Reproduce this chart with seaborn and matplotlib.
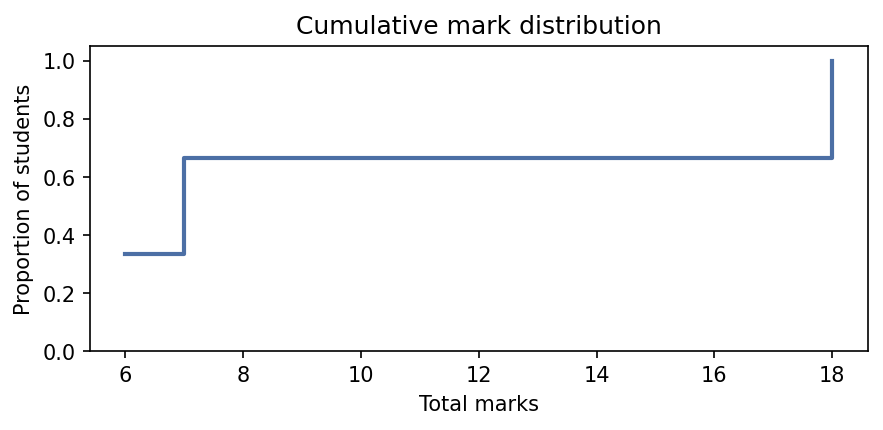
import numpy as np
import pandas as pd
import seaborn as sns
import matplotlib
matplotlib.use("Agg")
import matplotlib.pyplot as plt

# Total marks per student
students = ["A", "B", "C"]
total_marks = [6, 7, 18]

# Empirical cumulative proportion at each mark
marks = np.sort(np.array(total_marks))
proportion = np.arange(1, len(marks) + 1) / len(marks)
df = pd.DataFrame({"total": marks, "proportion": proportion})

fig, ax = plt.subplots(figsize=(5.89, 2.87), dpi=150)
sns.lineplot(data=df, x="total", y="proportion", ax=ax, color="#4c6fa5",
             linewidth=2, drawstyle="steps-post")

ax.set_ylim(0, 1.05)
ax.set_title("Cumulative mark distribution")
ax.set_xlabel("Total marks")
ax.set_ylabel("Proportion of students")

fig.subplots_adjust(left=0.102, right=0.982, top=0.891, bottom=0.183)
fig.savefig("out.png", dpi=150)
